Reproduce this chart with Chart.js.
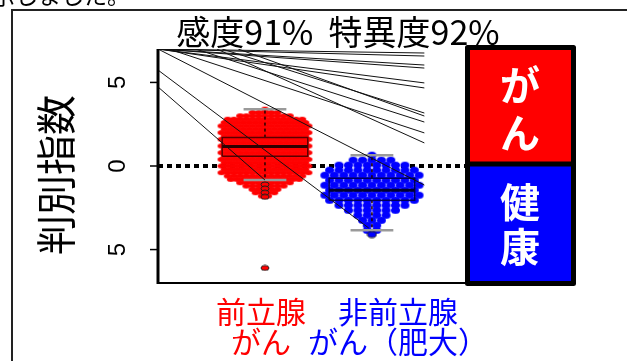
<!DOCTYPE html>
<html>
<head>
<meta charset="utf-8">
<script src="https://cdn.jsdelivr.net/npm/chart.js@4.4.1/dist/chart.umd.min.js"></script>
<style>
  html, body { margin: 0; padding: 0; background: #fff; }
</style>
</head>
<body>
<canvas id="myChart" width="627" height="361"></canvas>
<script>
// data
const groupX = [1, 2];
const groupLabels = [["前立腺", "がん"], ["非前立腺", "がん（肥大）"]];
const legendLabels = ["がん", "健康"];

// swarm rows: [value, dots in that row]
const redRows = [
  [3.4, 1], [3.2, 5], [3.0, 9], [2.8, 13], [2.6, 14], [2.4, 15], [2.2, 14],
  [2.0, 15], [1.8, 14], [1.6, 15], [1.4, 14], [1.2, 15], [1.0, 14], [0.8, 15],
  [0.6, 14], [0.4, 15], [0.2, 14], [0.0, 15], [-0.2, 14], [-0.4, 15], [-0.6, 13],
  [-0.8, 12], [-1.0, 9], [-1.2, 7], [-1.4, 5], [-1.6, 4], [-1.8, 2]
];
const blueRows = [
  [0.65, 1], [0.35, 5], [0.05, 8], [-0.25, 10], [-0.55, 11], [-0.85, 10],
  [-1.15, 11], [-1.45, 10], [-1.75, 11], [-2.05, 10], [-2.35, 8], [-2.65, 6],
  [-2.95, 4], [-3.25, 3], [-3.55, 2], [-3.85, 2]
];
const redOutliers = [-1.1, -1.35, -1.6, -1.85, -6.1];
const blueOutliers = [-4.1];

const boxQ1 = [0.58, -2.05];
const boxMedian = [1.17, -1.45];
const boxQ3 = [1.7, -0.73];
const whiskerLow = [-0.84, -3.85];
const whiskerHigh = [3.4, 0.65];

const yTicks = [5, 0, -5];
const yTickLabels = ["5", "0", "5"];

// discriminant lines: start and end points
const lineFrom = [
  [0, 7], [0, 7], [0, 7], [0, 7], [0, 7], [0, 7], [0.6, 7], [0.75, 7],
  [0.1, 7], [0.55, 7], [0, 7], [0, 5.74], [0, 4.73], [0.35, 7]
];
const lineTo = [
  [2.49, 6.76], [2.49, 6.58], [2.49, 6.04], [2.49, 5.86], [2.49, 4.97], [2.49, 4.67],
  [2.49, 3.17], [2.49, 2.99], [2.49, 1.98], [2.49, 1.38], [2.49, -1.14],
  [1.97, -3.71], [1.0, -0.84], [2.49, 2.63]
];

const XMAX = 2.87;
const BOX_HW = 0.4;
const CAP_HW = 0.2;
const JP = '"Noto Sans CJK JP", "Noto Sans", sans-serif';

// ellipse dots
function dot(w, h, fill, stroke) {
  const c = document.createElement("canvas");
  c.width = w + 2; c.height = h + 2;
  const g = c.getContext("2d");
  g.beginPath();
  g.ellipse(c.width / 2, c.height / 2, w / 2, h / 2, 0, 0, Math.PI * 2);
  g.fillStyle = fill;
  g.fill();
  if (stroke) { g.lineWidth = 1; g.strokeStyle = stroke; g.stroke(); }
  return c;
}
const redDot = dot(8, 5, "#ff0000");
const blueDot = dot(9, 7, "#0000ff");
const redOut = dot(8, 5, "#ff0000", "#202020");
const blueOut = dot(9, 6, "#0000ff", "#202020");

function swarm(rows, cx, dx) {
  const pts = [];
  rows.forEach(([v, n]) => {
    for (let i = 0; i < n; i++) pts.push({ x: cx + (i - (n - 1) / 2) * dx, y: v });
  });
  return pts;
}

function seg(x0, y0, x1, y1, color, width, order, dash) {
  return {
    type: "line",
    data: [{ x: x0, y: y0 }, { x: x1, y: y1 }],
    borderColor: color,
    borderWidth: width,
    borderDash: dash || [],
    pointRadius: 0,
    fill: false,
    order: order,
  };
}

const datasets = [];
// zero line
datasets.push(seg(0, 0, XMAX, 0, "#000", 4, 20, [5, 4]));
// swarms
datasets.push({ type: "scatter", data: swarm(redRows, groupX[0], 0.058), pointStyle: redDot, pointRadius: 4, order: 15 });
datasets.push({ type: "scatter", data: swarm(blueRows, groupX[1], 0.088), pointStyle: blueDot, pointRadius: 4, order: 15 });

// boxplots
const boxColors = ["#5a0000", "#00005a"];
const medianColors = ["#300000", "#000030"];
groupX.forEach((c, i) => {
  datasets.push({
    type: "line",
    data: [
      { x: c - BOX_HW, y: boxQ1[i] }, { x: c + BOX_HW, y: boxQ1[i] },
      { x: c + BOX_HW, y: boxQ3[i] }, { x: c - BOX_HW, y: boxQ3[i] },
      { x: c - BOX_HW, y: boxQ1[i] }
    ],
    borderColor: boxColors[i], borderWidth: 1.5, pointRadius: 0, fill: false, order: 10,
  });
  datasets.push(seg(c - BOX_HW, boxMedian[i], c + BOX_HW, boxMedian[i], medianColors[i], 3, 9));
  datasets.push(seg(c, boxQ3[i], c, whiskerHigh[i], "#200000", 1.5, 11, [3, 3]));
  datasets.push(seg(c, boxQ1[i], c, whiskerLow[i], "#200000", 1.5, 11, [3, 3]));
  datasets.push(seg(c - CAP_HW, whiskerHigh[i], c + CAP_HW, whiskerHigh[i], "#9a9a9a", 2.5, 12));
  datasets.push(seg(c - CAP_HW, whiskerLow[i], c + CAP_HW, whiskerLow[i], "#9a9a9a", 2.5, 12));
});

// outliers
datasets.push({ type: "scatter", data: redOutliers.map(v => ({ x: groupX[0], y: v })), pointStyle: redOut, pointRadius: 4, order: 6 });
datasets.push({ type: "scatter", data: blueOutliers.map(v => ({ x: groupX[1], y: v })), pointStyle: blueOut, pointRadius: 4, order: 6 });

// discriminant lines
lineFrom.forEach((p, i) => {
  datasets.push(seg(p[0], p[1], lineTo[i][0], lineTo[i][1], "#111", 1, 3));
});

// decorations
const decor = {
  id: "decor",
  afterDraw(chart) {
    const { ctx, scales: { x, y } } = chart;
    const { left, right, top, bottom } = chart.chartArea;
    ctx.save();

    // slide frame and cut-off sentence above
    ctx.strokeStyle = "#222";
    ctx.lineWidth = 2;
    ctx.strokeRect(12, 10, 700, 400);
    ctx.fillStyle = "#000";
    ctx.font = "23px " + JP;
    ctx.textAlign = "left";
    ctx.textBaseline = "alphabetic";
    ctx.fillText("示しました。", -8, 4);

    // title
    ctx.font = "34px " + JP;
    ctx.textAlign = "center";
    ctx.fillText("感度91%  特異度92%", 338, 45);

    // axes
    ctx.strokeStyle = "#000";
    ctx.lineWidth = 3;
    ctx.beginPath();
    ctx.moveTo(left, top);
    ctx.lineTo(left, bottom + 1);
    ctx.stroke();
    ctx.lineWidth = 2;
    ctx.beginPath();
    ctx.moveTo(left, bottom);
    ctx.lineTo(right, bottom);
    ctx.stroke();

    // y ticks
    ctx.lineWidth = 1.5;
    ctx.font = '24px "Liberation Sans", Arial, sans-serif';
    ctx.textBaseline = "middle";
    yTicks.forEach((v, i) => {
      const py = y.getPixelForValue(v);
      ctx.beginPath();
      ctx.moveTo(left - 8, py);
      ctx.lineTo(left, py);
      ctx.stroke();
      ctx.save();
      ctx.translate(118, py);
      ctx.rotate(-Math.PI / 2);
      ctx.fillText(yTickLabels[i], 0, 0);
      ctx.restore();
    });

    // y title
    ctx.save();
    ctx.translate(56, 175);
    ctx.rotate(-Math.PI / 2);
    ctx.font = "40px " + JP;
    ctx.fillText("判別指数", 0, 0);
    ctx.restore();

    // group labels
    const labelColors = ["#ff0000", "#0000ff"];
    const labelShift = [-4, 26];
    ctx.font = "30px " + JP;
    groupLabels.forEach((lines, i) => {
      const px = x.getPixelForValue(groupX[i]) + labelShift[i];
      ctx.fillStyle = labelColors[i];
      lines.forEach((t, j) => ctx.fillText(t, px, 312 + j * 30));
    });

    // legend boxes
    ctx.fillStyle = "#ff0000";
    ctx.fillRect(466, 46, 109, 119);
    ctx.fillStyle = "#0000ff";
    ctx.fillRect(466, 164, 109, 120);
    ctx.strokeStyle = "#000";
    ctx.lineWidth = 5;
    ctx.lineJoin = "round";
    ctx.strokeRect(467.5, 47.5, 106, 236);
    ctx.beginPath();
    ctx.moveTo(466, 164);
    ctx.lineTo(575, 164);
    ctx.stroke();
    ctx.fillStyle = "#fff";
    ctx.font = "bold 40px " + JP;
    const charY = [[85, 133], [202, 247]];
    legendLabels.forEach((t, i) => {
      [...t].forEach((ch, j) => ctx.fillText(ch, 520, charY[i][j]));
    });

    ctx.restore();
  },
};

const config = {
  type: "scatter",
  data: { datasets },
  options: {
    responsive: false,
    animation: false,
    events: [],
    layout: { padding: { left: 158, right: 162, top: 49, bottom: 78 } },
    scales: {
      x: { type: "linear", min: 0, max: XMAX, display: false },
      y: { type: "linear", min: -7, max: 7, display: false },
    },
    plugins: { legend: { display: false }, tooltip: { enabled: false } },
  },
  plugins: [decor],
};

const myChart = new Chart(document.getElementById("myChart"), config);
</script>
</body>
</html>
